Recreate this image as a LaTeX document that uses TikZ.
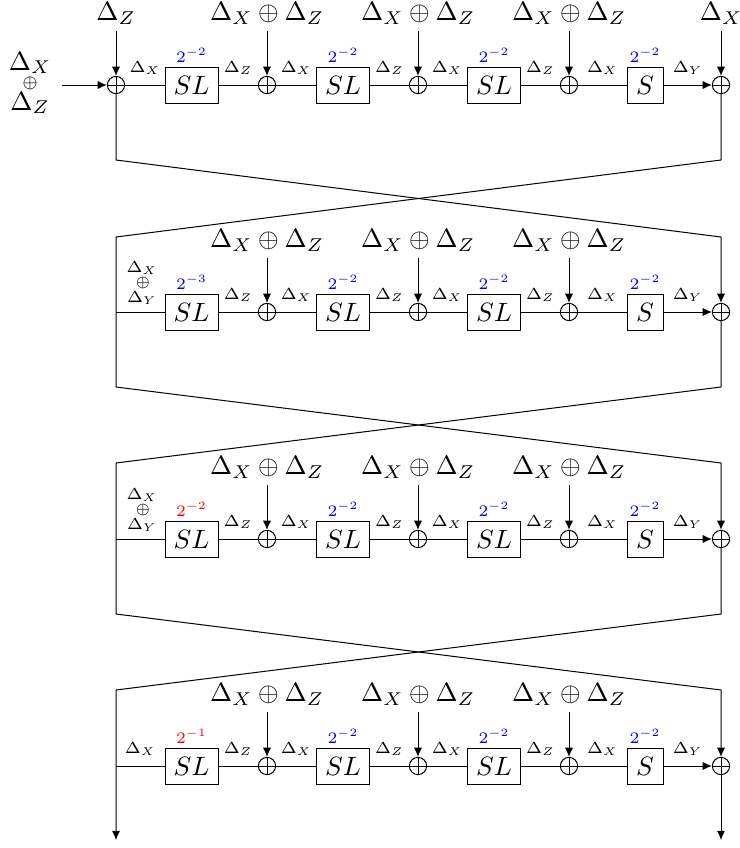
\documentclass[tikz,border=0pt]{standalone}
\usepackage{fix-cm}
\usetikzlibrary{arrows.meta}
\begin{document}
\begin{tikzpicture}[x=0.4pt,y=-0.4pt,
  font=\fontsize{10.6}{12.7}\selectfont,
  xorn/.style={circle,draw,minimum size=6.9pt,inner sep=0pt,
    path picture={\draw (path picture bounding box.north)--(path picture bounding box.south)
      (path picture bounding box.west)--(path picture bounding box.east);}},
  slbox/.style={draw,minimum width=21.2pt,minimum height=14.4pt,inner sep=0pt},
  sbox/.style={draw,minimum width=14.4pt,minimum height=14.4pt,inner sep=0pt},
  lab/.style={font=\fontsize{6.4}{7.5}\selectfont,inner sep=1pt,above=2.9pt},
  lab2/.style={font=\fontsize{6.4}{7.5}\selectfont,inner sep=0pt,anchor=base},
  lab3/.style={font=\fontsize{5.6}{7}\selectfont,inner sep=0pt},
  big/.style={anchor=base,inner sep=0pt},
  expo/.style={font=\fontsize{6.4}{7.5}\selectfont,inner sep=1.6pt,anchor=south},
  arr/.style={-{Latex[length=3.7pt,width=3.3pt]}}]
\useasboundingbox (0,0) rectangle (740,848);

\foreach \r/\yy/\ea/\ca in {1/85/-2/blue,2/312/-3/blue,3/539/-2/red,4/766/-1/red}{
  \node[slbox] (sa\r) at (191.5,\yy) {$SL$};
  \node[xorn] (xb\r) at (267,\yy) {};
  \node[slbox] (sb\r) at (343,\yy) {$SL$};
  \node[xorn] (xc\r) at (418,\yy) {};
  \node[slbox] (sc\r) at (494,\yy) {$SL$};
  \node[xorn] (xd\r) at (569,\yy) {};
  \node[sbox] (sd\r) at (645,\yy) {$S$};
  \node[xorn] (xe\r) at (721,\yy) {};
  \node[expo,text=\ca] (ea\r) at (sa\r.north) {$2^{\ea}$};
  \node[expo,text=blue] (eb\r) at (sb\r.north) {$2^{-2}$};
  \node[expo,text=blue] (ec\r) at (sc\r.north) {$2^{-2}$};
  \node[expo,text=blue] (ed\r) at (sd\r.north) {$2^{-2}$};
  \draw (sa\r) -- node[lab] {$\Delta_Z$} (xb\r);
  \draw (xb\r) -- node[lab] {$\Delta_X$} (sb\r);
  \draw (sb\r) -- node[lab] {$\Delta_Z$} (xc\r);
  \draw (xc\r) -- node[lab] {$\Delta_X$} (sc\r);
  \draw (sc\r) -- node[lab] {$\Delta_Z$} (xd\r);
  \draw (xd\r) -- node[lab] {$\Delta_X$} (sd\r);
  \draw[arr] (sd\r) -- node[lab] {$\Delta_Y$} (xe\r);
  \foreach \k/\xx in {b/267,c/418,d/569}{
    \node[big] (t\k\r) at (\xx,\yy-64.5) {$\Delta_X\oplus\Delta_Z$};
    \coordinate (a\k\r) at (\xx,\yy-54);
    \draw[arr] (a\k\r) -- (x\k\r);
  }
}

% row 1 extras
\node[xorn] (xa1) at (116,85) {};
\draw (xa1) -- node[lab] {$\Delta_X$} (sa1);
\node[big] (tz) at (116,20.5) {$\Delta_Z$};
\coordinate (az) at (116,31);
\draw[arr] (az) -- (xa1);
\node[big] (tx) at (721,20.5) {$\Delta_X$};
\coordinate (ax) at (721,31);
\draw[arr] (ax) -- (xe1);
\node[big] (in1) at (30,70) {$\Delta_X$};
\node[inner sep=0pt,font=\fontsize{6.6}{8}\selectfont] (in2) at (30,83) {$\oplus$};
\node[big] (in3) at (30,110) {$\Delta_Z$};
\coordinate (ain) at (62,85);
\draw[arr] (ain) -- (xa1);

% junctions and left labels
\coordinate (j2) at (116,312);
\coordinate (j3) at (116,539);
\coordinate (j4) at (116,766);
\draw (j2) -- (sa2);
\draw (j3) -- (sa3);
\draw (j4) -- node[lab] {$\Delta_X$} (sa4);
\foreach \r/\yy in {2/312,3/539}{
  \node[lab2] (la\r) at (142,\yy-40) {$\Delta_X$};
  \node[lab3] (lb\r) at (143,\yy-29.5) {$\oplus$};
  \node[lab2] (lc\r) at (142,\yy-10) {$\Delta_Y$};
}

% crossings
\coordinate (p1) at (116,160);
\coordinate (q1) at (721,237);
\coordinate (r1) at (721,160);
\coordinate (s1) at (116,237);
\coordinate (s1b) at (116,387);
\coordinate (q2) at (721,463);
\coordinate (r2) at (721,387);
\coordinate (s2) at (116,463);
\coordinate (s2b) at (116,614);
\coordinate (q3) at (721,690);
\coordinate (r3) at (721,614);
\coordinate (s3) at (116,690);
\coordinate (endl) at (116,840);
\coordinate (endr) at (721,840);
\draw[arr] (xa1) -- (p1) -- (q1) -- (xe2);
\draw[arr] (xe1) -- (r1) -- (s1) -- (s1b) -- (q2) -- (xe3);
\draw[arr] (xe2) -- (r2) -- (s2) -- (s2b) -- (q3) -- (xe4);
\draw[arr] (xe3) -- (r3) -- (s3) -- (endl);
\draw[arr] (xe4) -- (endr);
\end{tikzpicture}
\end{document}
